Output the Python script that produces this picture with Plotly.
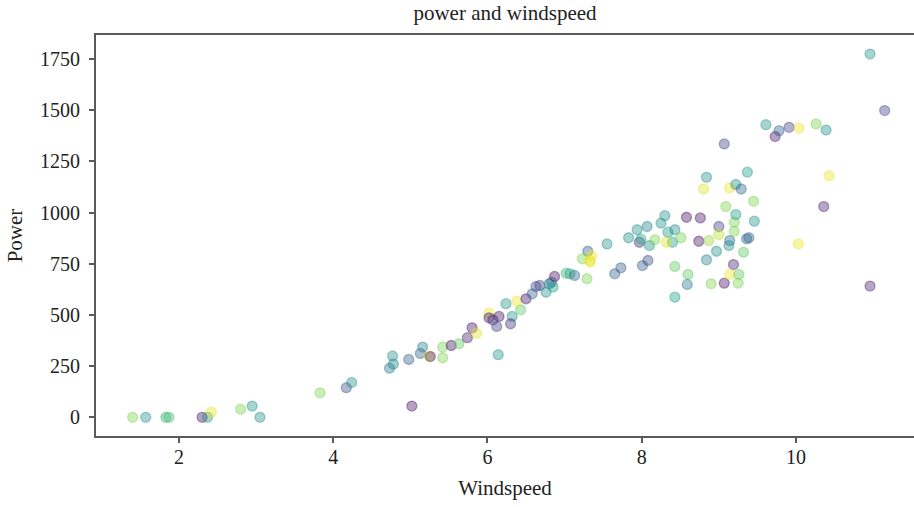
import plotly.graph_objects as go
from plotly.colors import sample_colorscale

windspeed = [1.40, 1.57, 1.83, 1.87, 2.30, 2.37, 2.42, 2.80, 2.95, 3.05,
             3.83, 4.17, 4.24, 4.73, 4.77, 4.78, 5.02, 4.98, 5.13, 5.16,
             5.24, 5.26, 5.42, 5.42, 5.53, 5.63, 5.74, 5.80, 5.86, 6.02,
             6.02, 6.07, 6.15, 6.12, 6.14, 6.24, 6.32, 6.30, 6.43, 6.38,
             6.50, 6.58, 6.63, 6.68, 6.76, 6.80, 6.83, 6.85, 6.87, 7.02,
             7.07, 7.13, 7.29, 7.30, 7.23, 7.33, 7.35, 7.55, 7.65, 7.73,
             7.83, 7.94, 7.97, 7.99, 8.01, 8.08, 8.07, 8.10, 8.17, 8.25,
             8.30, 8.34, 8.43, 8.40, 8.32, 8.51, 8.43, 8.43, 8.58, 8.60,
             8.59, 8.74, 8.76, 8.84, 8.80, 8.84, 8.87, 8.90, 8.97, 9.00,
             9.00, 9.09, 9.14, 9.14, 9.13, 9.07, 9.19, 9.14, 9.26, 9.25,
             9.22, 9.29, 9.20, 9.22, 9.20, 9.32, 9.36, 9.39, 9.37, 9.45,
             9.46, 10.03, 10.96, 11.15, 9.61, 9.73, 9.78, 9.91, 10.04, 10.26,
             10.39, 10.43, 10.36, 9.07, 10.96, 7.33]

power = [0, 0, 0, 0, 0, 0, 25, 40, 55, 0,
         120, 145, 170, 240, 300, 260, 55, 283, 312, 343,
         299, 297, 343, 291, 351, 359, 389, 437, 411, 509,
         486, 476, 493, 444, 306, 555, 493, 457, 525, 567,
         579, 603, 639, 644, 611, 652, 660, 636, 688, 704,
         701, 693, 677, 811, 774, 766, 790, 847, 701, 730,
         877, 916, 855, 870, 741, 766, 932, 839, 867, 948,
         985, 904, 916, 855, 855, 877, 737, 587, 977, 698,
         649, 860, 974, 769, 1115, 1172, 863, 652, 811, 932,
         893, 1029, 1120, 863, 839, 655, 746, 698, 698, 655,
         1137, 1115, 953, 990, 909, 806, 872, 877, 1197, 1055,
         958, 847, 1774, 1498, 1429, 1371, 1400, 1416, 1413, 1433,
         1403, 1180, 1029, 1335, 641, 758]

shade = [0.80, 0.50, 0.65, 0.70, 0.05, 0.50, 0.97, 0.80, 0.50, 0.50,
         0.80, 0.25, 0.50, 0.40, 0.50, 0.45, 0.05, 0.30, 0.30, 0.45,
         0.97, 0.10, 0.80, 0.80, 0.05, 0.75, 0.10, 0.05, 0.95, 0.97,
         0.05, 0.15, 0.05, 0.20, 0.50, 0.50, 0.50, 0.15, 0.75, 0.97,
         0.05, 0.30, 0.25, 0.20, 0.50, 0.45, 0.35, 0.55, 0.05, 0.65,
         0.60, 0.35, 0.80, 0.30, 0.80, 0.97, 0.97, 0.50, 0.30, 0.30,
         0.50, 0.50, 0.15, 0.60, 0.30, 0.25, 0.45, 0.50, 0.80, 0.50,
         0.50, 0.55, 0.50, 0.55, 0.95, 0.80, 0.75, 0.55, 0.05, 0.75,
         0.40, 0.05, 0.05, 0.45, 0.95, 0.50, 0.85, 0.80, 0.50, 0.20,
         0.90, 0.80, 0.97, 0.35, 0.50, 0.05, 0.10, 0.97, 0.75, 0.80,
         0.50, 0.35, 0.80, 0.55, 0.80, 0.75, 0.30, 0.35, 0.55, 0.80,
         0.50, 0.97, 0.50, 0.20, 0.50, 0.05, 0.30, 0.20, 0.97, 0.80,
         0.50, 0.97, 0.10, 0.20, 0.10, 0.97]

x_ticks = [2, 4, 6, 8, 10]
y_ticks = [0, 250, 500, 750, 1000, 1250, 1500, 1750]

ALPHA = 0.4


def to_rgba(c, a):
    c = c.strip()
    if c.startswith("#"):
        r, g, b = int(c[1:3], 16), int(c[3:5], 16), int(c[5:7], 16)
    else:
        r, g, b = [int(float(v)) for v in c[c.index("(") + 1:c.index(")")].split(",")[:3]]
    return f"rgba({r},{g},{b},{a})"


base = sample_colorscale("Viridis", shade)
fill = [to_rgba(c, ALPHA) for c in base]
edge = [to_rgba(c, ALPHA) for c in base]

fig = go.Figure()
fig.add_trace(go.Scatter(
    x=windspeed, y=power, mode="markers",
    marker=dict(size=10, color=fill, line=dict(color=edge, width=1.3)),
    showlegend=False, hoverinfo="x+y",
))

font_family = "Liberation Serif, DejaVu Serif, serif"
axis_color = "#5a5a5a"

fig.update_layout(
    width=914, height=507,
    margin=dict(l=96, r=0, t=35, b=71),
    paper_bgcolor="white", plot_bgcolor="white",
    font=dict(family=font_family, color="#222222", size=20),
    title=dict(text="power and windspeed", x=0.5, xref="paper", xanchor="center",
               y=0.975, yref="container", yanchor="middle",
               font=dict(family=font_family, size=21, color="#222222")),
    xaxis=dict(range=[0.925, 11.53], tickvals=x_ticks, showgrid=False, zeroline=False,
               showline=True, linecolor=axis_color, linewidth=2, mirror=True,
               ticks="outside", ticklen=5, tickwidth=1.5, tickcolor=axis_color,
               tickfont=dict(size=20), ticklabelstandoff=-3,
               title=dict(text="Windspeed", font=dict(size=21), standoff=13)),
    yaxis=dict(range=[-91, 1867], tickvals=y_ticks, showgrid=False, zeroline=False,
               showline=True, linecolor=axis_color, linewidth=2,
               ticks="outside", ticklen=5, tickwidth=1.5, tickcolor=axis_color,
               tickfont=dict(size=20), ticklabelstandoff=5,
               title=dict(text="Power", font=dict(size=21), standoff=12)),
)

fig.write_html("out.html")
